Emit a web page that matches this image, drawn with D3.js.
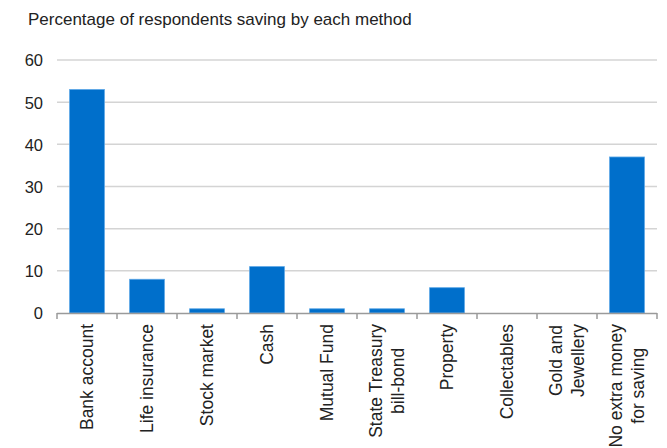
<!DOCTYPE html>
<html><head><meta charset="utf-8">
<script src="https://cdn.jsdelivr.net/npm/d3@7"></script>
<style>body{margin:0;background:#fff}svg{display:block}text{font-family:"Liberation Sans",Arial,Helvetica,sans-serif;fill:#222}</style>
</head><body><svg id="c" width="667" height="448"></svg>
<script>
const categories = ["Bank account","Life insurance","Stock market","Cash","Mutual Fund","State Treasury\nbill-bond","Property","Collectables","Gold and\nJewellery","No extra money\nfor saving"];
const values = [53, 8, 1, 11, 1, 1, 6, 0, 0, 37];
const yTicks = [0, 10, 20, 30, 40, 50, 60];
const title = "Percentage of respondents saving by each method";

(function () {
const svg = d3.select("#c");
const mLeft = 57, mRight = 657, mTop = 60, mBottom = 313;
const x = d3.scaleBand().domain(categories).range([mLeft, mRight]).paddingInner(0.42).paddingOuter(0.21);
const y = d3.scaleLinear().domain([0, 60]).range([mBottom, mTop]);

svg.append("text").attr("x", 28).attr("y", 25).style("font-size", "17px").text(title);

svg.append("g").selectAll("line").data(yTicks.filter(d => d > 0)).join("line")
  .attr("x1", mLeft).attr("x2", mRight).attr("y1", d => y(d)).attr("y2", d => y(d))
  .attr("stroke", "#d4d4d4").attr("stroke-width", 1.5);

const yAxis = d3.axisLeft(y).tickValues(yTicks).tickSize(0).tickPadding(0);
const gy = svg.append("g").attr("transform", "translate(43,0)").call(yAxis);
gy.select(".domain").remove();
gy.selectAll("text").style("font-size", "16.5px").style("font-family", '"Liberation Sans",Arial,sans-serif').attr("fill", "#222").attr("dy", "0.36em");

svg.append("g").selectAll("rect").data(values).join("rect")
  .attr("x", (d, i) => x(categories[i])).attr("width", x.bandwidth())
  .attr("y", d => y(d)).attr("height", d => y(0) - y(d))
  .attr("fill", "#006fcb").attr("stroke", "#5aa6e6").attr("stroke-width", 0.8);

const gx = svg.append("g");
gx.append("line").attr("x1", mLeft).attr("x2", mRight).attr("y1", mBottom + 0.5).attr("y2", mBottom + 0.5)
  .attr("stroke", "#9a9a9a").attr("stroke-width", 1.5);
const edges = categories.map(c => x(c) - x.step() * x.paddingInner() / 2).concat([mRight]);
gx.selectAll("line.t").data(edges).join("line").attr("class", "t")
  .attr("x1", d => d).attr("x2", d => d).attr("y1", mBottom).attr("y2", mBottom + 6)
  .attr("stroke", "#9a9a9a").attr("stroke-width", 1.5);

const lineH = 21.5;
categories.forEach(c => {
  const lines = c.split("\n");
  const cx = x(c) + x.bandwidth() / 2 - 0.5;
  const g = svg.append("g");
  const texts = lines.map(l => g.append("text").style("font-size", "17.5px").attr("text-anchor", "middle").text(l));
  const maxLen = d3.max(texts, t => t.node().getComputedTextLength());
  const cy = 324 + maxLen / 2;
  texts.forEach((t, i) => {
    const off = (i - (lines.length - 1) / 2) * lineH;
    t.attr("transform", `translate(${cx + off},${cy}) rotate(-90)`).attr("dy", "0.36em");
  });
});
})();
</script></body></html>
